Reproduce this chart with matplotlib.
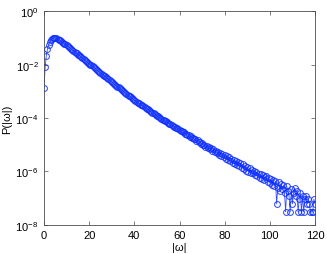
import matplotlib
matplotlib.use('Agg')
import matplotlib.pyplot as plt
import numpy as np
from matplotlib.ticker import NullLocator

plt.rcParams['font.family'] = ['Liberation Sans', 'DejaVu Sans']
plt.rcParams['mathtext.fontset'] = 'custom'
plt.rcParams['mathtext.rm'] = 'Liberation Sans'
plt.rcParams['mathtext.default'] = 'regular'
plt.rcParams['font.size'] = 8

# bin centres of |omega|
w = np.arange(0, 120.5, 0.5)

# log10 P for the smooth part, |omega| = 0 ... 92
logp_body = [
    -2.87, -2.10, -1.68, -1.43, -1.27, -1.16, -1.08, -1.03, -1.00, -0.99,
    -1.00, -1.01, -1.03, -1.06, -1.09, -1.12, -1.15, -1.18, -1.21, -1.24,
    -1.27, -1.30, -1.34, -1.37, -1.41, -1.44, -1.48, -1.51, -1.55, -1.58,
    -1.62, -1.65, -1.68, -1.72, -1.75, -1.79, -1.82, -1.86, -1.89, -1.93,
    -1.96, -2.00, -2.03, -2.06, -2.10, -2.13, -2.17, -2.20, -2.24, -2.27,
    -2.31, -2.34, -2.37, -2.41, -2.44, -2.48, -2.51, -2.55, -2.58, -2.62,
    -2.65, -2.68, -2.72, -2.75, -2.79, -2.82, -2.85, -2.89, -2.92, -2.96,
    -2.99, -3.02, -3.06, -3.09, -3.13, -3.16, -3.19, -3.23, -3.26, -3.30,
    -3.33, -3.36, -3.39, -3.42, -3.45, -3.48, -3.51, -3.53, -3.56, -3.59,
    -3.62, -3.65, -3.68, -3.71, -3.74, -3.77, -3.80, -3.82, -3.85, -3.88,
    -3.91, -3.94, -3.97, -4.00, -4.03, -4.06, -4.08, -4.11, -4.13, -4.16,
    -4.19, -4.21, -4.24, -4.26, -4.29, -4.32, -4.34, -4.37, -4.39, -4.42,
    -4.44, -4.48, -4.49, -4.53, -4.54, -4.59, -4.59, -4.64, -4.64, -4.70,
    -4.69, -4.74, -4.75, -4.80, -4.79, -4.85, -4.84, -4.91, -4.89, -4.96,
    -4.95, -5.02, -5.00, -5.07, -5.04, -5.12, -5.09, -5.17, -5.13, -5.23,
    -5.18, -5.27, -5.22, -5.32, -5.26, -5.38, -5.31, -5.42, -5.35, -5.47,
    -5.40, -5.52, -5.44, -5.57, -5.48, -5.61, -5.53, -5.68, -5.57, -5.72,
    -5.61, -5.77, -5.66, -5.81, -5.70, -5.87, -5.74, -5.92, -5.79, -5.97,
    -5.83, -6.02, -5.88, -6.07, -5.95,
]

# raw counts in the noisy tail, |omega| = 92.5 ... 120
tail_counts = [
    28, 34, 25, 31, 22, 27, 19, 26, 17, 24,
    15, 21, 22, 13, 18, 12, 17, 10, 16, 9,
    14, 2, 8, 13, 6, 11, 7, 10, 5, 1,
    9, 6, 4, 1, 7, 2, 5, 8, 4, 6,
    1, 3, 5, 1, 4, 1, 3, 4, 2, 3,
    2, 1, 1, 1, 3, 2,
]
n_samples = 3.3e7

p = np.concatenate([10.0 ** np.array(logp_body), np.array(tail_counts) / n_samples])

fig = plt.figure(figsize=(3.27, 2.55), dpi=100)
ax = fig.add_axes([0.1346, 0.1149, 0.8287, 0.8369])

ax.semilogy(w, p, '-o', color='#1030ff', lw=0.6, ms=4.2, mew=0.75,
            mfc='none', alpha=0.85)

ax.set_xlim(0, 120)
ax.set_ylim(1e-8, 1e0)
ax.set_xticks([0, 20, 40, 60, 80, 100, 120])
yt = [1e-8, 1e-6, 1e-4, 1e-2, 1e0]
ax.set_yticks(yt)
ax.set_yticklabels([r'$10^{%d}$' % int(np.log10(v)) for v in yt])
ax.yaxis.set_minor_locator(NullLocator())

gray = '0.3'
for s in ax.spines.values():
    s.set_color(gray)
    s.set_linewidth(0.6)
ax.tick_params(direction='in', top=True, right=True, length=3, width=0.5,
               color=gray, labelsize=8, pad=4)

ax.set_xlabel('|ω|', fontsize=8, labelpad=1)
ax.set_ylabel('P(|ω|)', fontsize=8, labelpad=2)

fig.savefig('out.png', dpi=100)
